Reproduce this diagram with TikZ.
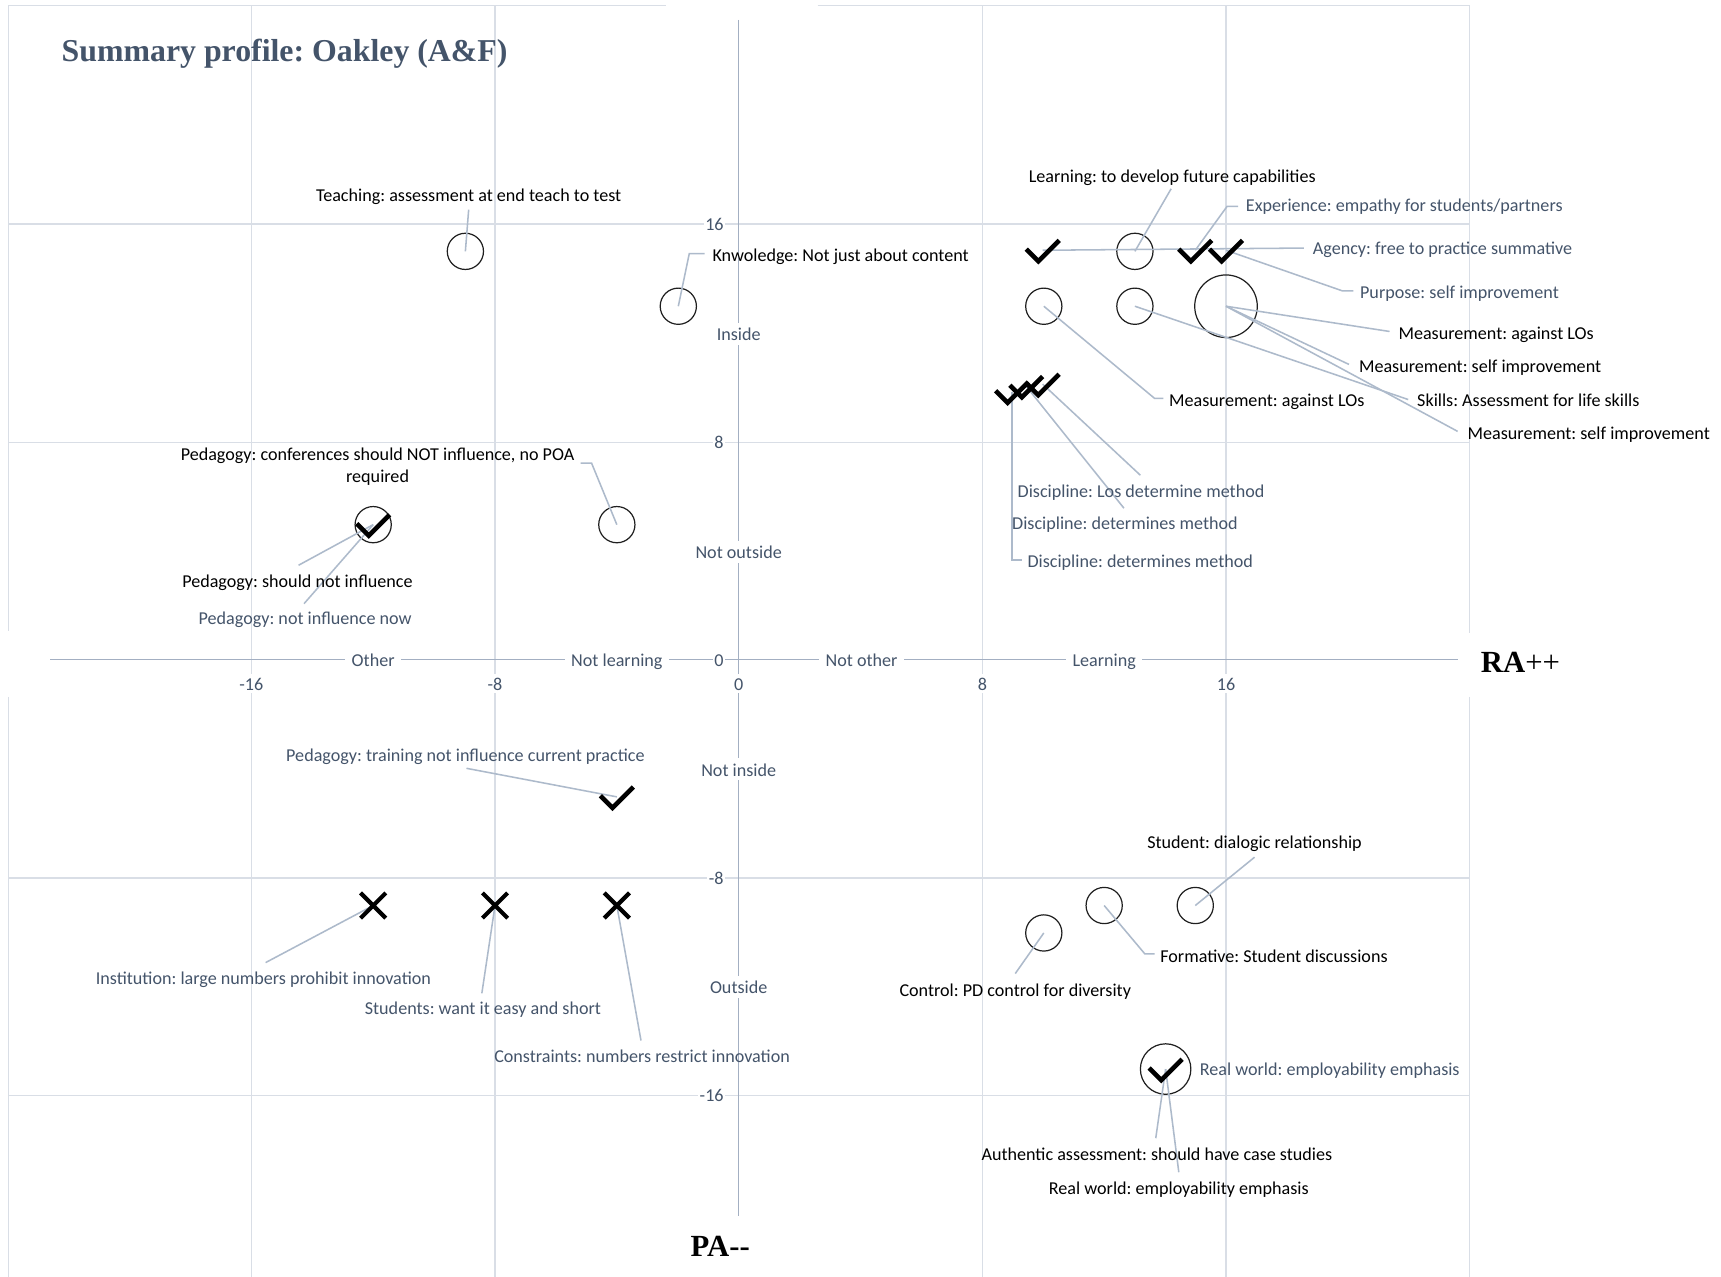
\documentclass[tikz,border=0pt]{standalone}
\usepackage{fontspec}
\setmainfont{Carlito}
\newfontfamily\serifhead{Liberation Serif}

\definecolor{gridc}{HTML}{D9DEE6}
\definecolor{axisc}{HTML}{A3AFC2}
\definecolor{leadc}{HTML}{ADBACB}
\definecolor{slate}{HTML}{44546A}
\definecolor{ringc}{HTML}{1F1F1F}

\tikzset{
  chk/.pic={\draw[line width=4.2pt, line join=miter] (-15,-1) -- (-4,10) -- (15,-9);},
  crs/.pic={\draw[line width=3.8pt] (-11.5,-11.5) -- (11.5,11.5) (-11.5,11.5) -- (11.5,-11.5);},
}

\begin{document}
\frenchspacing
\begin{tikzpicture}[x=1pt, y=-1pt,
  every node/.style={font=\fontsize{16.5}{18}\selectfont},
  lbl/.style={inner sep=0pt, text height=13pt, text depth=1pt, text=black},
  slbl/.style={lbl, text=slate},
  axlbl/.style={fill=white, text=slate, inner xsep=6pt, inner ysep=3pt, text height=13pt, text depth=1pt},
  ticklbl/.style={fill=white, text=slate, inner sep=1.5pt, text height=13pt, text depth=1pt},
  ring/.style={circle, draw=ringc, line width=1.1pt, inner sep=0pt, minimum size=33pt},
  bigring/.style={ring, minimum size=57pt},
  leader/.style={draw=leadc, line width=1.4pt},
  gridline/.style={draw=gridc, line width=1.3pt},
  axisline/.style={draw=axisc, line width=1.3pt},
]
\useasboundingbox (0,0) rectangle (1568,1163);
\fill[white] (0,0) rectangle (1568,1163);

% ---------- grid and frame ----------
\foreach \gx in {229,451,895,1117} \draw[gridline] (\gx,5) -- (\gx,1163);
\foreach \gy in {204,403,800,998} \draw[gridline] (8,\gy) -- (1339,\gy);
\draw[gridline] (8,5) -- (607,5) (745,5) -- (1339,5);
\draw[gridline] (8,5) -- (8,575) (8,635) -- (8,1163);
\draw[gridline] (1339,5) -- (1339,577) (1339,635) -- (1339,1163);

% ---------- axes ----------
\draw[axisline] (673,18) -- (673,1108);
\draw[axisline] (46,601) -- (1328,601);

\node[axlbl] (axIn)    at (673,304) {Inside};
\node[axlbl] (axNOut)  at (673,503) {Not outside};
\node[axlbl] (axNIn)   at (673,701) {Not inside};
\node[axlbl] (axOut)   at (673,899) {Outside};
\node[axlbl] (axOth)   at (340,601) {Other};
\node[axlbl] (axNLrn)  at (562,601) {Not learning};
\node[axlbl] (axNOth)  at (785,601) {Not other};
\node[axlbl] (axLrn)   at (1006,601) {Learning};

\node[ticklbl] (xm16) at (229,623) {-16};
\node[ticklbl] (xm8)  at (451,623) {-8};
\node[ticklbl] (x0)   at (673,623) {0};
\node[ticklbl] (x8)   at (895,623) {8};
\node[ticklbl] (x16)  at (1117,623) {16};
\node[ticklbl, anchor=east] (y16)  at (661,204) {16};
\node[ticklbl, anchor=east] (y8)   at (661,403) {8};
\node[ticklbl, anchor=east] (y0)   at (661,601) {0};
\node[ticklbl, anchor=east] (ym8)  at (661,800) {-8};
\node[ticklbl, anchor=east] (ym16) at (661,998) {-16};

% ---------- data points ----------
\node[ring] (teach) at (424,229) {};
\node[ring] (know) at (618,279) {};
\node[ring] (learn) at (1034,229) {};
\coordinate (agency) at (950,228);
\coordinate (exper) at (1089,228);
\coordinate (purp) at (1117,228);
\node[ring] (measA) at (951,279) {};
\node[ring] (skills) at (1034,279) {};
\node[bigring] (meas) at (1117,279) {};
\coordinate (discA) at (922,357);
\coordinate (discB) at (935,352);
\coordinate (discC) at (950,350);
\node[ring] (pedconf) at (562,478) {};
\node[ring] (pedshould) at (340,478) {};
\coordinate (pedtrain) at (562,726);
\coordinate (inst) at (340,825);
\coordinate (stud) at (451,825);
\coordinate (constr) at (562,825);
\node[ring] (dialog) at (1089,825) {};
\node[ring] (form) at (1006,825) {};
\node[ring] (ctrl) at (951,850) {};
\node[ring, minimum size=46pt] (real) at (1062,974) {};

% ---------- leader ends and elbows ----------
\coordinate (teachE) at (427,191);
\coordinate (knowK) at (628,231);
\coordinate (knowE) at (642,231);
\coordinate (learnE) at (1067,172);
\coordinate (experK) at (1118,188);
\coordinate (experE) at (1128,188);
\coordinate (agencyE) at (1188,226);
\coordinate (purpK) at (1223,265);
\coordinate (purpE) at (1233,265);
\coordinate (meas1E) at (1266,302);
\coordinate (meas2E) at (1229,332);
\coordinate (skillsE) at (1283,364);
\coordinate (meas3E) at (1328,393);
\coordinate (measAK) at (1052,363);
\coordinate (measAE) at (1060,363);
\coordinate (discCE) at (1039,433);
\coordinate (discBE) at (1024,463);
\coordinate (discAK) at (922,510);
\coordinate (discAE) at (931,510);
\coordinate (pedconfK) at (539,422);
\coordinate (pedconfE) at (529,422);
\coordinate (pedshouldE) at (272,515);
\coordinate (pednowE) at (277,550);
\coordinate (pedtrainE) at (425,700);
\coordinate (instE) at (242,877);
\coordinate (studE) at (439,905);
\coordinate (constrE) at (584,948);
\coordinate (dialogE) at (1143,781);
\coordinate (formK) at (1043,869);
\coordinate (formE) at (1052,869);
\coordinate (ctrlE) at (925,887);
\coordinate (authE) at (1053,1037);
\coordinate (real2E) at (1074,1068);

% ---------- leaders ----------
\draw[leader] (teach.center) -- (teachE);
\draw[leader] (know.center) -- (knowK) -- (knowE);
\draw[leader] (learn.center) -- (learnE);
\draw[leader] (exper) -- (experK) -- (experE);
\draw[leader] (agency) -- (agencyE);
\draw[leader] (purp) -- (purpK) -- (purpE);
\draw[leader] (meas.center) -- (meas1E);
\draw[leader] (meas.center) -- (meas2E);
\draw[leader] (skills.center) -- (skillsE);
\draw[leader] (meas.center) -- (meas3E);
\draw[leader] (measA.center) -- (measAK) -- (measAE);
\draw[leader] (discC) -- (discCE);
\draw[leader] (discB) -- (discBE);
\draw[leader] (discA) -- (discAK) -- (discAE);
\draw[leader] (pedconf.center) -- (pedconfK) -- (pedconfE);
\draw[leader] (pedshould.center) -- (pedshouldE);
\draw[leader] (pedshould.center) -- (pednowE);
\draw[leader] (pedtrain) -- (pedtrainE);
\draw[leader] (inst) -- (instE);
\draw[leader] (stud) -- (studE);
\draw[leader] (constr) -- (constrE);
\draw[leader] (dialog.center) -- (dialogE);
\draw[leader] (form.center) -- (formK) -- (formE);
\draw[leader] (ctrl.center) -- (ctrlE);
\draw[leader] (real.center) -- (authE);
\draw[leader] (real.center) -- (real2E);

% ---------- markers ----------
\pic at (agency) {chk};
\pic at (exper) {chk};
\pic at (purp) {chk};
\pic at (discA) {chk};
\pic at (discB) {chk};
\pic at (discC) {chk};
\pic at (pedshould) {chk};
\pic at (pedtrain) {chk};
\pic at (real) {chk};
\pic at (inst) {crs};
\pic at (stud) {crs};
\pic at (constr) {crs};

% ---------- data labels ----------
\node[lbl] (tTeach) at (427,178) {Teaching: assessment at end teach to test};
\node[lbl, anchor=west] (tKnow) at (649,232) {Knwoledge: Not just about content};
\node[lbl] (tLearn) at (1068,160) {Learning: to develop future capabilities};
\node[slbl, anchor=west] (tExper) at (1135,187) {Experience: empathy for students/partners};
\node[slbl, anchor=west] (tAgency) at (1196,226) {Agency: free to practice summative};
\node[slbl, anchor=west] (tPurp) at (1239,266) {Purpose: self improvement};
\node[lbl, anchor=west] (tMeas1) at (1274,303) {Measurement: against LOs};
\node[lbl, anchor=west] (tMeas2) at (1238,333) {Measurement: self improvement};
\node[lbl, anchor=west] (tSkills) at (1291,364) {Skills: Assessment for life skills};
\node[lbl, anchor=west] (tMeas3) at (1337,394) {Measurement: self improvement};
\node[lbl, anchor=west] (tMeasA) at (1065,364) {Measurement: against LOs};
\node[slbl, anchor=west] (tDiscC) at (927,447) {Discipline: Los determine method};
\node[slbl, anchor=west] (tDiscB) at (922,476) {Discipline: determines method};
\node[slbl, anchor=west] (tDiscA) at (936,511) {Discipline: determines method};
\node[inner sep=0pt, align=center, font=\fontsize{16.5}{20}\selectfont] (tPedConf) at (344,425)
  {Pedagogy: conferences should NOT influence, no POA\\required};
\node[lbl] (tPedShould) at (271,529) {Pedagogy: should not influence};
\node[slbl] (tPedNow) at (278,563) {Pedagogy: not influence now};
\node[slbl] (tPedTrain) at (424,688) {Pedagogy: training not influence current practice};
\node[slbl] (tInst) at (240,891) {Institution: large numbers prohibit innovation};
\node[slbl] (tStud) at (440,918) {Students: want it easy and short};
\node[slbl] (tConstr) at (585,962) {Constraints: numbers restrict innovation};
\node[lbl] (tDialog) at (1143,767) {Student: dialogic relationship};
\node[lbl, anchor=west] (tForm) at (1057,871) {Formative: Student discussions};
\node[lbl] (tCtrl) at (925,902) {Control: PD control for diversity};
\node[slbl, anchor=west] (tReal1) at (1093,974) {Real world: employability emphasis};
\node[lbl] (tAuth) at (1054,1051) {Authentic assessment: should have case studies};
\node[lbl] (tReal2) at (1074,1082) {Real world: employability emphasis};

% ---------- headings ----------
\node[anchor=base west, inner sep=0pt, text=slate,
      font=\serifhead\bfseries\fontsize{29}{32}\selectfont] (title) at (56,56)
  {Summary profile: Oakley (A\&F)};
\node[anchor=base west, inner sep=0pt, font=\serifhead\fontsize{28}{30}\selectfont] (ra) at (1349,613)
  {\textbf{RA}++};
\node[anchor=base west, inner sep=0pt, font=\serifhead\bfseries\fontsize{28}{30}\selectfont] (pa) at (629,1145)
  {PA-{}-};
\end{tikzpicture}
\end{document}
